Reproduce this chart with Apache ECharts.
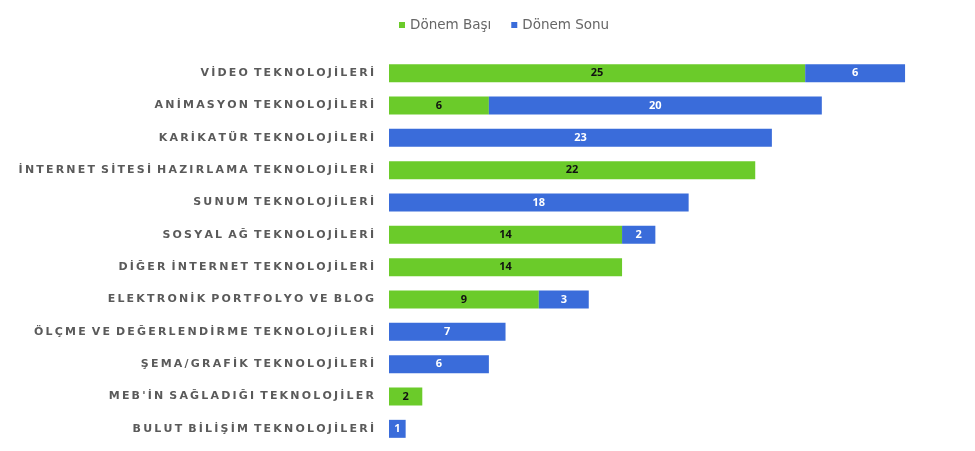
<!DOCTYPE html>
<html><head><meta charset="utf-8">
<script src="https://cdn.jsdelivr.net/npm/echarts@6/dist/echarts.min.js"></script>
<style>html,body{margin:0;padding:0;background:#fff}#c{width:975px;height:451px}</style>
</head><body><div id="c"></div>
<script>
const categories = [
  "VİDEO TEKNOLOJİLERİ",
  "ANİMASYON TEKNOLOJİLERİ",
  "KARİKATÜR TEKNOLOJİLERİ",
  "İNTERNET SİTESİ HAZIRLAMA TEKNOLOJİLERİ",
  "SUNUM TEKNOLOJİLERİ",
  "SOSYAL AĞ TEKNOLOJİLERİ",
  "DİĞER İNTERNET TEKNOLOJİLERİ",
  "ELEKTRONİK PORTFOLYO VE BLOG",
  "ÖLÇME VE DEĞERLENDİRME TEKNOLOJİLERİ",
  "ŞEMA/GRAFİK TEKNOLOJİLERİ",
  "MEB'İN SAĞLADIĞI TEKNOLOJİLER",
  "BULUT BİLİŞİM TEKNOLOJİLERİ"
];
const donemBasi = [25, 6, 0, 22, 0, 14, 14, 9, 0, 0, 2, 0];
const donemSonu = [6, 20, 23, 0, 18, 2, 0, 3, 7, 6, 0, 1];
const seriesNames = ["Dönem Başı", "Dönem Sonu"];

// spread letters (visual letter-spacing)
const spread = s => s.split(' ').map(w => Array.from(w).join('\u2009')).join('\u2009 ');

const chart = echarts.init(document.getElementById('c'));
const hideZero = p => p.value ? String(p.value) : '';
chart.setOption({
  animation: false,
  backgroundColor: '#fff',
  legend: {
    top: 13, left: 394, itemWidth: 6, itemHeight: 6, itemGap: 20,
    icon: 'rect',
    textStyle: {fontFamily: 'DejaVu Sans', fontSize: 13.5, color: '#666'},
    data: seriesNames
  },
  grid: {left: 389, right: 20, top: 57, bottom: 6, containLabel: false},
  xAxis: {type: 'value', min: 0, max: 34, show: false},
  yAxis: {
    type: 'category', inverse: true, data: categories,
    axisLine: {show: false}, axisTick: {show: false},
    axisLabel: {margin: 15, formatter: spread, fontFamily: 'DejaVu Sans', fontWeight: 'bold', fontSize: 11, color: '#5a5a5a'}
  },
  series: [
    {name: seriesNames[0], type: 'bar', stack: 't', data: donemBasi, barWidth: 18,
     itemStyle: {color: '#6bcb2a'},
     label: {show: true, position: 'inside', formatter: hideZero, color: '#111', fontWeight: 'bold', fontSize: 11, fontFamily: 'Open Sans'}},
    {name: seriesNames[1], type: 'bar', stack: 't', data: donemSonu, barWidth: 18,
     itemStyle: {color: '#3a6cda'},
     label: {show: true, position: 'inside', formatter: hideZero, color: '#fff', fontWeight: 'bold', fontSize: 11, fontFamily: 'Open Sans'}}
  ]
});
</script></body></html>
